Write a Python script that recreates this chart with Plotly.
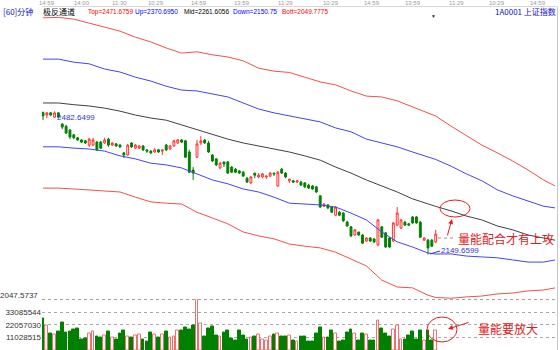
import plotly.graph_objects as go

# ---------------- data ----------------
OPEN = [2480,2474,2479,2469,2479,2453,2448,2439,2428,2421,2416,2414,2404,2404,2411,2411,2409,2418,2404,2407,
        2404,2386,2381,2409,2397,2397,2402,2393,2390,2388,2393,2390,2404,2395,2402,2409,2416,2414,2388,2346,
        2376,2409,2416,2409,2381,2372,2351,2365,2365,2353,2348,2344,2341,2327,2316,2339,2330,2330,2330,2332,
        2339,2309,2348,2339,2321,2321,2318,2318,2316,2311,2309,2307,2286,2262,2265,2260,2241,2248,2246,2225,
        2214,2195,2202,2195,2181,2188,2186,2172,2214,2200,2188,2181,2218,2211,2225,2221,2237,2237,2225,2183,
        2183,2183,2179]
HIGH = [2482,2481,2481,2482.6499,2481,2455,2451,2441,2430,2423,2418,2416,2421,2421,2414,2414,2421,2421,2411,2409,
        2407,2388,2407,2411,2407,2404,2404,2393,2393,2397,2395,2393,2407,2404,2416,2418,2418,2416,2393,2353,
        2416,2425,2418,2414,2383,2374,2365,2365,2367,2355,2351,2346,2344,2330,2332,2339,2339,2339,2332,2341,
        2339,2344,2351,2341,2325,2323,2323,2321,2318,2314,2311,2309,2288,2269,2267,2262,2262,2251,2248,2228,
        2216,2209,2202,2197,2190,2190,2186,2232,2216,2202,2190,2225,2260,2232,2228,2223,2239,2239,2228,2190,
        2186,2186,2207]
LOW = [2462,2467,2472,2467,2467,2441,2430,2418,2418,2414,2409,2407,2400,2402,2390,2395,2407,2400,2402,2400,
       2397,2374,2379,2397,2395,2395,2390,2386,2383,2386,2386,2381,2390,2393,2400,2407,2409,2374,2339,2323,
       2374,2404,2407,2386,2365,2355,2348,2353,2337,2339,2339,2337,2330,2316,2314,2327,2327,2327,2325,2330,
       2332,2307,2337,2327,2316,2316,2316,2309,2304,2302,2300,2293,2258,2260,2255,2246,2239,2239,2225,2214,
       2190,2193,2193,2174,2179,2179,2176,2169,2188,2165,2165,2179,2216,2209,2216,2216,2221,2221,2188,2181,
       2149.6599,2167,2176]
CLOSE = [2472,2479,2474,2479,2469,2446,2432,2423,2421,2416,2411,2409,2418,2416,2393,2397,2416,2404,2409,2402,
         2400,2381,2404,2400,2404,2402,2393,2390,2386,2393,2388,2393,2393,2402,2414,2416,2411,2376,2341,2339,
         2407,2414,2409,2388,2367,2358,2362,2360,2339,2341,2341,2339,2332,2318,2330,2334,2334,2337,2332,2339,
         2337,2341,2339,2330,2325,2318,2321,2311,2307,2304,2302,2295,2260,2267,2258,2248,2260,2241,2228,2216,
         2193,2207,2195,2176,2188,2181,2179,2230,2190,2167,2167,2223,2246,2230,2218,2218,2223,2223,2190,2188,
         2165,2169,2197]
# volume in millions of shares
VOLUME = [27.4,21.6,14.4,13.8,15.9,23.6,15.0,15.9,18.2,18.4,9.2,10.1,14.4,15.9,11.5,11.0,13.0,16.4,11.0,9.2,
          14.4,16.7,11.5,11.0,13.0,13.5,9.2,7.2,15.0,13.8,11.0,13.8,15.9,11.0,12.1,16.7,17.3,19.6,17.9,21.6,
          43.8,23.1,11.5,18.7,20.8,13.0,11.5,15.0,17.3,10.1,8.1,16.7,13.0,9.2,11.0,12.1,13.5,9.2,8.7,11.5,
          13.5,14.4,12.1,12.1,13.0,8.7,7.2,12.1,11.5,7.2,7.2,14.4,19.6,11.0,11.0,16.7,14.4,7.8,8.1,15.3,
          17.9,14.4,8.7,14.4,13.8,8.7,8.7,25.9,18.7,14.4,11.5,17.9,21.6,9.2,9.2,13.0,15.9,9.2,17.3,8.7,
          17.3,8.1,17.3]

# channel lines (extend beyond the last candle)
BAND_IDX = [0,4,8,12,16,20,24,28,32,36,40,44,48,52,56,60,64,68,72,76,80,84,88,92,96,100,102,106,110,114,118,122,126,130,133]
TOP  = [2700,2701,2697,2688,2679,2669,2655,2644,2630,2618,2621,2614,2609,2600,2583,2576,2573,2562,2551,2544,2530,2518,2516,2507,2493,2479,2471.6759,2448,2425,2404,2386,2367,2346,2323,2309]
UP   = [2604,2604,2597,2593,2581,2574,2562,2553,2541,2532,2530,2523,2516,2502,2488,2479,2472,2465,2458,2444,2435,2418,2409,2400,2388,2376,2370.6950,2355,2337,2321,2300,2286,2274,2262,2258]
MID  = [2502,2502,2498,2495,2490,2483,2474,2467,2462,2451,2439,2428,2418,2409,2402,2395,2388,2379,2369,2353,2339,2323,2309,2295,2279,2267,2261.6056,2251,2239,2230,2216,2207,2195,2188,2183]
DOWN = [2400,2400,2397,2395,2390,2379,2372,2362,2358,2351,2337,2323,2314,2302,2295,2283,2269,2267,2265,2260,2246,2230,2202,2179,2167,2153,2150.7513,2151,2146,2144,2142,2137,2132,2132,2137]
BOTT = [2304,2304,2302,2300,2298,2295,2283,2272,2269,2267,2248,2234,2221,2202,2193,2186,2174,2169,2165,2155,2139,2123,2090,2074,2072,2055,2049.7775,2048,2051,2053,2058,2060,2065,2067,2072]

VOL_TICKS = [11028515, 22057030, 33085544]
VOL_MAX = 44114059
PRICE_FLOOR_LABEL = "2047.5737"
TIME_LABELS = ["14:59","14:00","11:30","10:29","14:59","13:59","11:29","10:29","14:59","13:59","11:29","10:29","14:59"]
TITLE_ITEMS = [("[60]分钟", "#1010C0"), ("极反通道", "#000000"), ("Top=2471.6759", "#FF0000"),
               ("Up=2370.6950", "#0000FF"), ("Mid=2261.6056", "#000000"), ("Down=2150.75", "#0000FF"),
               ("Bott=2049.7775", "#FF0000")]
SYMBOL = "1A0001 上证指数"
HIGH_LABEL = "2482.6499"
LOW_LABEL = "2149.6599"
NOTE_MAIN = "量能配合才有上攻"
NOTE_VOL = "量能要放大"

# ---------------- layout geometry ----------------
W, H = 560, 350
ML, MR, MT, MB = 42, 3, 7, 0
PW, PH = W - ML - MR, H - MT - MB

def fx(x):
    return (x - ML) / PW

def fy(y):
    return (H - MB - y) / PH

VOL_TOP = fy(299.5)
N = len(OPEN)
idx = list(range(N))

RED = "#FF3030"
GREEN = "#008000"
CJK = "Noto Sans CJK SC"
LAT = "Liberation Sans, Arial, sans-serif"

fig = go.Figure()

band_styles = [(TOP, "#F05050"), (UP, "#4444EE"), (MID, "#404040"), (DOWN, "#4444EE"), (BOTT, "#F05050")]
for vals, col in band_styles:
    fig.add_trace(go.Scatter(x=BAND_IDX, y=vals, mode="lines", line=dict(color=col, width=1),
                             xaxis="x", yaxis="y", hoverinfo="skip"))

fig.add_trace(go.Candlestick(
    x=idx, open=OPEN, high=HIGH, low=LOW, close=CLOSE, xaxis="x", yaxis="y",
    increasing=dict(line=dict(color=RED, width=1), fillcolor="white"),
    decreasing=dict(line=dict(color=GREEN, width=1), fillcolor=GREEN),
    whiskerwidth=0, hoverinfo="skip"))

up = [c >= o for o, c in zip(OPEN, CLOSE)]
fig.add_trace(go.Bar(
    x=idx, y=[v * 1e6 for v in VOLUME], width=0.72, xaxis="x2", yaxis="y2",
    marker=dict(color=["white" if u else GREEN for u in up],
                line=dict(color=["#F07070" if u else GREEN for u in up], width=1)),
    hoverinfo="skip"))

xr = [(ML - 43) / 3.85, (W - MR - 43) / 3.85]

shapes = []
shapes.append(dict(type="line", xref="paper", yref="paper", x0=0, x1=1, y0=fy(6.5), y1=fy(6.5),
                   line=dict(color="#d8d8d8", width=1)))
shapes.append(dict(type="line", xref="paper", yref="paper", x0=fx(557.5), x1=fx(557.5), y0=0, y1=fy(6.5),
                   line=dict(color="#c8c8c8", width=1)))
shapes.append(dict(type="line", xref="paper", yref="paper", x0=0, x1=1, y0=VOL_TOP, y1=VOL_TOP,
                   line=dict(color="#a0a0a0", width=1, dash="dot")))
shapes.append(dict(type="circle", xref="paper", yref="paper", x0=fx(440), x1=fx(470), y0=fy(217), y1=fy(200),
                   line=dict(color="#E02020", width=1)))
shapes.append(dict(type="circle", xref="paper", yref="paper", x0=fx(427), x1=fx(457), y0=fy(342), y1=fy(317),
                   line=dict(color="#E02020", width=1)))
shapes.append(dict(type="line", xref="paper", yref="paper", x0=fx(438), x1=fx(456), y0=fy(238), y1=fy(238),
                   line=dict(color="#909090", width=1, dash="dot")))
shapes.append(dict(type="line", xref="paper", yref="paper", x0=fx(430), x1=fx(440), y0=fy(254), y1=fy(251),
                   line=dict(color="#3333DD", width=1)))

ann = []
time_px = [47, 82, 119, 156, 199, 242, 285, 331, 372, 413, 456, 497, 538]
for t, p in zip(TIME_LABELS, time_px):
    ann.append(dict(text=t, x=fx(p), y=fy(3), xref="paper", yref="paper", showarrow=False,
                    font=dict(size=6, color="#9a9a9a", family=LAT), xanchor="center", yanchor="middle"))
title_px = [1, 41, 86, 133, 182, 231, 280]
for (t, c), p in zip(TITLE_ITEMS, title_px):
    f = CJK if any(ord(ch) > 255 for ch in t) else LAT
    sz = 8 if f == CJK else 6.5
    ann.append(dict(text=t, x=fx(p), y=fy(11.5), xref="paper", yref="paper", showarrow=False,
                    font=dict(size=sz, color=c, family=f), xanchor="left", yanchor="middle"))
ann.append(dict(text=SYMBOL, x=fx(558), y=fy(11.5), xref="paper", yref="paper", showarrow=False,
                font=dict(size=8, color="#1010D0", family=CJK), xanchor="right", yanchor="middle"))
ann.append(dict(text="▼", x=fx(433), y=fy(16), xref="paper", yref="paper", showarrow=False,
                font=dict(size=5, color="#303030", family=LAT), xanchor="center", yanchor="middle"))
ann.append(dict(text=HIGH_LABEL, x=fx(55), y=fy(117), xref="paper", yref="paper", showarrow=False,
                font=dict(size=8, color="#3333DD", family=LAT), xanchor="left", yanchor="middle"))
ann.append(dict(text=LOW_LABEL, x=fx(439), y=fy(250.5), xref="paper", yref="paper", showarrow=False,
                font=dict(size=8, color="#3333DD", family=LAT), xanchor="left", yanchor="middle"))
ann.append(dict(text=PRICE_FLOOR_LABEL, x=fx(40), y=fy(295.5), xref="paper", yref="paper", showarrow=False,
                font=dict(size=8, color="#333333", family=LAT), xanchor="right", yanchor="middle"))
ann.append(dict(text=NOTE_MAIN, x=fx(456), y=fy(238.5), xref="paper", yref="paper", showarrow=False,
                font=dict(size=12, color="#E02020", family=CJK), xanchor="left", yanchor="middle"))
ann.append(dict(text=NOTE_VOL, x=fx(476), y=fy(328), xref="paper", yref="paper", showarrow=False,
                font=dict(size=12, color="#E02020", family=CJK), xanchor="left", yanchor="middle"))
ann.append(dict(text="", x=fx(452), y=fy(219), xref="paper", yref="paper", showarrow=True,
                ax=-5, ay=18, arrowhead=2, arrowsize=1, arrowwidth=1, arrowcolor="#E02020"))
ann.append(dict(text="", x=fx(448), y=fy(329), xref="paper", yref="paper", showarrow=True,
                ax=22, ay=-7, arrowhead=2, arrowsize=1, arrowwidth=1, arrowcolor="#E02020"))

fig.update_layout(
    width=W, height=H, margin=dict(l=ML, r=MR, t=MT, b=MB),
    paper_bgcolor="white", plot_bgcolor="white", showlegend=False, hovermode=False,
    bargap=0,
    xaxis=dict(domain=[0, 1], range=xr, anchor="y", visible=False, rangeslider=dict(visible=False)),
    xaxis2=dict(domain=[0, 1], range=xr, anchor="y2", matches="x", visible=False),
    yaxis=dict(domain=[VOL_TOP, 1], range=[2045.0, 2725.2], visible=False),
    yaxis2=dict(domain=[0, VOL_TOP], range=[0, VOL_MAX], tickvals=VOL_TICKS,
                ticktext=[str(v) for v in VOL_TICKS], showgrid=True, griddash="dot",
                gridcolor="#a8a8a8", gridwidth=1, zeroline=False, showline=False, ticks="",
                tickfont=dict(size=8, color="#333333", family=LAT)),
    shapes=shapes, annotations=ann,
)

fig.write_html("out.html")
